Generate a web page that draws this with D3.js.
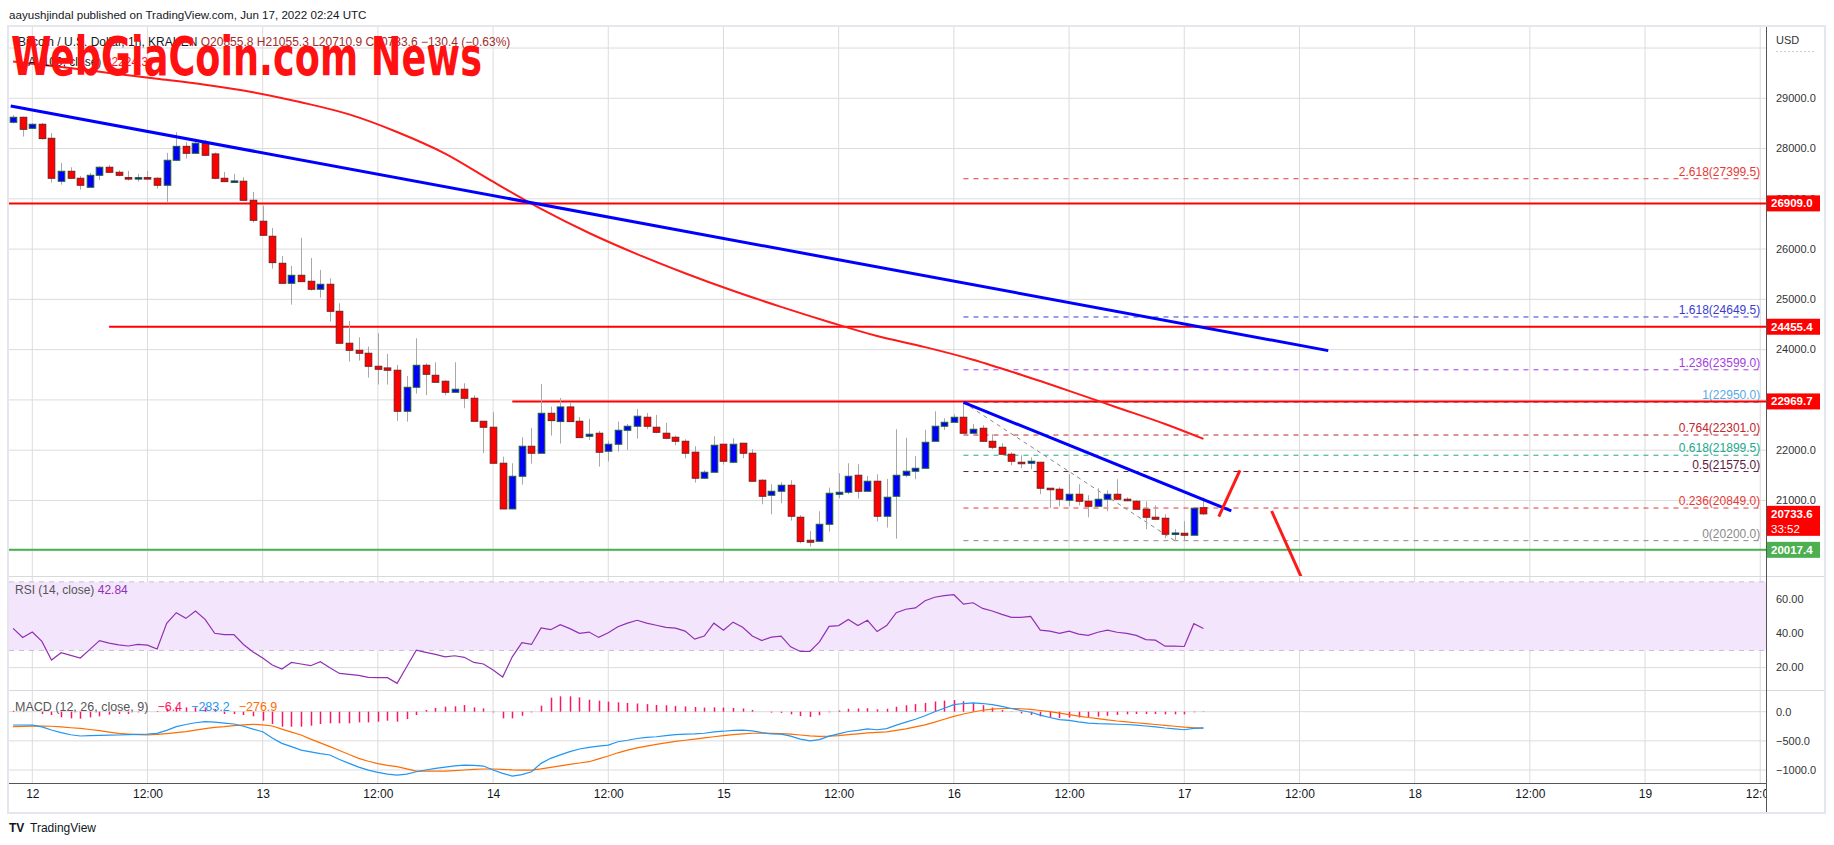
<!DOCTYPE html>
<html>
<head>
<meta charset="utf-8">
<script src="https://cdn.jsdelivr.net/npm/d3@7"></script>
<style>
  body { margin: 0; background: #fff; }
  svg text { font-family: "Liberation Sans", Arial, sans-serif; }
</style>
</head>
<body>
<script>
// BTC/USD 1h candles, first bar = Jun 11 22:00 UTC
var opens = [28523,28622,28403,28483,28204,27349,27548,27409,27230,27468,
  27628,27528,27422,27415,27422,27409,27270,27767,28044,27906,
  28105,27893,27409,27350,27350,26971,26554,26255,25718,25320,
  25479,25360,25201,25300,24763,24127,23987,23928,23669,23636,
  23590,22774,23251,23689,23490,23371,23152,23212,23033,22575,
  22456,21740,20831,21481,22078,21939,22734,22569,22860,22575,
  22277,22337,21979,22118,22396,22476,22655,22456,22337,22257,
  22177,21959,21442,21561,22118,21760,22138,21939,21402,21103,
  21183,21302,20666,20208,20188,20526,21123,21163,21501,21183,
  21382,20686,21083,21501,21581,21640,22177,22476,22555,22655,
  22337,22436,22177,22058,21919,21760,21740,21760,21243,21223,
  21004,21123,20984,20884,21024,21123,21024,20984,20825,20666,
  20646,20347,20347,20308,20855.8];
var highs = [28668,28635,28503,28510,28310,27714,27628,27455,27515,27648,
  27674,27568,27555,27495,27555,27429,27913,28324,28125,28158,
  28171,27920,27535,27495,27429,27137,26865,26421,25864,25665,
  26222,25824,25585,25419,24922,24571,24246,24060,24325,23914,
  23696,23477,24226,23729,23749,23390,23749,23331,23092,22575,
  22754,21872,21740,22257,22443,23318,22867,23039,22953,22661,
  22622,22383,22190,22569,22522,22820,22741,22701,22542,22290,
  22217,22078,21601,22277,22118,22237,22138,22018,21422,21322,
  21362,21402,20706,20387,20785,21256,21541,21740,21720,21488,
  21521,21428,22416,22244,21886,22403,22774,22635,22714,22950,
  22522,22496,22317,22138,21959,21899,21859,21760,21243,21262,
  21521,21322,21103,21243,21203,21422,21064,21004,20984,20904,
  20726,20427,20586,20865,21055.3];
var lows = [28500,28238,28390,28178,27323,27283,27400,27183,27225,27376,
  27520,27449,27362,27342,27390,27203,26938,27750,27800,27900,
  27850,27390,27342,27340,26960,26527,26265,25612,25320,24896,
  25353,25174,25035,24558,24127,23762,23782,23444,23305,23305,
  22582,22569,23125,23092,23351,23092,23152,22834,22575,21939,
  21740,20831,20831,21316,21733,21939,22290,22131,22569,22250,
  22204,21673,21773,21972,22005,22230,22416,22337,22217,22098,
  21839,21355,21442,21561,21713,21740,21839,21382,20924,20725,
  20944,20599,20149,20082,20188,20380,21044,21123,21037,21183,
  20580,20460,20241,21461,21422,21640,22177,22403,22555,22337,
  22337,22177,22018,21919,21700,21640,21620,21123,20845,20884,
  20884,20904,20666,20884,20785,21024,20984,20825,20427,20626,
  20248,20200,20200,20308,20710.9];
var closes = [28622,28383,28483,28198,27409,27548,27409,27270,27468,27628,
  27528,27468,27409,27422,27409,27270,27767,28044,27906,28105,
  27866,27409,27342,27356,26971,26573,26275,25731,25320,25479,
  25353,25201,25300,24763,24127,23987,23928,23669,23609,23590,
  22774,23251,23689,23510,23351,23152,23212,23033,22575,22456,
  21740,20831,21481,22078,21939,22734,22588,22860,22569,22250,
  22317,21959,22118,22396,22476,22675,22476,22356,22237,22177,
  21939,21442,21561,22098,21780,22118,21939,21382,21083,21183,
  21302,20686,20182,20169,20526,21143,21163,21481,21183,21382,
  20686,21064,21501,21581,21640,22157,22476,22555,22655,22337,
  22416,22177,22058,21919,21780,21740,21780,21243,21223,21024,
  21123,20984,20884,21024,21123,21024,21004,20825,20666,20626,
  20328,20353,20308,20845,20733.6];

// moving average (100, close), read at some bars
var maBars = [0,5,10,15,20,25,30,35,40,45,50,55,60,65,70,75,80,85,90,95,100,105,110,115,120,124];
var maVals = [29730,29620,29505,29390,29270,29120,28920,28680,28330,27900,27340,26800,26320,25900,25520,25170,24850,24550,24270,24050,23800,23500,23180,22850,22520,22224];

var rsi = [42.9,37.6,40.7,35.3,24.4,28.7,27.1,25.6,30.6,35.7,34.3,33.3,32.6,33.5,33.1,30.8,45.8,52.0,48.7,53.0,
  48.1,40.0,39.2,39.2,33.5,29.1,25.6,21.5,19.2,23.0,22.1,21.1,23.4,19.9,16.6,16.0,15.5,14.3,14.1,14.1,
  10.8,20.5,30.2,28.9,27.7,26.3,26.9,26.0,23.0,22.1,18.6,14.5,26.3,34.5,33.5,43.1,42.1,45.0,42.7,40.0,
  40.7,37.6,40.3,43.8,45.9,47.6,45.9,44.7,43.5,43.0,41.3,36.6,38.4,45.9,41.8,46.5,43.5,38.4,35.8,37.8,
  38.4,32.1,29.4,29.4,35.0,44.0,44.5,48.0,44.5,47.6,41.0,44.5,52.0,54.0,54.8,59.0,61.0,62.0,62.5,57.0,
  57.8,54.5,53.0,51.0,49.3,49.3,49.8,41.8,41.3,40.0,41.3,39.5,38.8,40.6,41.8,40.6,40.0,38.8,36.3,36.0,
  32.5,32.5,32.3,45.6,42.84];

var macd = [-228,-228,-230,-260,-314,-360,-395,-417,-412,-405,-402,-400,-395,-390,-385,-372,-320,-257,-220,-190,
  -171,-180,-195,-211,-250,-300,-343,-450,-543,-600,-658,-690,-720,-743,-820,-886,-950,-1001,-1040,-1070,
  -1087,-1070,-1030,-1000,-972,-950,-930,-915,-920,-932,-1000,-1058,-1104,-1080,-1030,-886,-800,-740,-686,-640,
  -611,-590,-572,-515,-490,-460,-440,-430,-410,-395,-385,-380,-370,-345,-335,-320,-315,-330,-360,-380,
  -385,-420,-470,-500,-480,-420,-380,-340,-320,-295,-310,-290,-230,-180,-130,-70,0,60,120,140,
  150,140,120,90,55,20,-10,-60,-100,-135,-150,-175,-195,-205,-210,-215,-220,-230,-245,-260,
  -280,-295,-310,-285,-283.2];
var signal = [-257,-252,-248,-245,-250,-262,-275,-285,-305,-325,-350,-372,-385,-395,-400,-390,-375,-360,-343,-315,
  -290,-270,-257,-240,-225,-217,-225,-245,-300,-350,-400,-470,-535,-600,-665,-735,-800,-850,-890,-920,
  -943,-980,-1018,-1018,-1018,-1018,-1010,-1000,-990,-983,-983,-990,-998,-1001,-1001,-980,-955,-930,-905,-880,
  -858,-810,-760,-705,-660,-620,-590,-560,-535,-510,-490,-470,-450,-430,-410,-395,-380,-370,-370,-372,
  -375,-385,-400,-415,-425,-420,-410,-395,-380,-365,-355,-345,-320,-295,-260,-225,-180,-130,-80,-40,
  -5,25,45,55,55,50,40,20,0,-25,-50,-75,-100,-120,-140,-160,-175,-190,-205,-220,
  -235,-250,-265,-275,-276.9];
var hist = [15,10,0,-40,-57,-97,-114,-120,-97,-80,-50,-40,-40,-11,-5,10,57,70,74,74,
  74,46,-40,-40,-57,-80,-154,-211,-257,-257,-257,-240,-211,-200,-200,-200,-183,-183,-171,-154,
  -171,-126,-57,29,63,86,92,114,74,57,-11,-114,-114,-70,-11,103,240,263,263,246,
  206,189,172,160,150,140,130,115,110,100,90,80,70,75,70,65,55,30,0,-15,
  -20,-45,-75,-90,-60,-10,20,50,55,60,40,50,85,110,130,150,175,190,200,180,
  150,110,70,30,-5,-30,-55,-80,-100,-110,-100,-100,-95,-85,-70,-55,-45,-40,-40,-40,
  -45,-45,-45,-10,-6.4];

// drawings: [hours from Jun 12 00:00, price]
var trend1 = [[-2.25, 28845], [135, 23980]];
var trend2 = [[97, 22950], [124.9, 20791]];
var fibTrend = [[97, 22950], [119, 20200]];
var arrowUp = [[123.6, 20680], [125.8, 21600]];
var arrowDown = [[129.1, 20790], [132.2, 19470]];
var levels = [26909.0, 24455.4, 22969.7];
var levelStart = [-2.5, 8, 50];
var support = 20017.4;

var fibRatios = [0, 0.236, 0.5, 0.618, 0.764, 1, 1.236, 1.618, 2.618];
var fibPrices = [20200.0, 20849.0, 21575.0, 21899.5, 22301.0, 22950.0, 23599.0, 24649.5, 27399.5];
var fibColors = ['#8a8a8a','#e53935','#5c1a3c','#22a88a','#c0262b','#5aa9e6','#a63be0','#3a3ccf','#e53935'];

var priceTicks = [20000,21000,22000,23000,24000,25000,26000,27000,28000,29000];
var rsiTicks = [20, 40, 60];
var macdTicks = [0, -500, -1000];

var H = 3600e3;
var t12 = Date.UTC(2022, 5, 12);
var firstBar = Date.UTC(2022, 5, 11, 22);
function barTime(i) { return new Date(firstBar + i * H); }
function hrs(h) { return new Date(t12 + h * H); }

let width = 1834, height = 845;
let left = 9, right = 1766;
let priceTop = 27, priceBot = 576, rsiBot = 690, macdBot = 783, axisBot = 812;

var svg = d3.select('body').append('svg').attr('width', width).attr('height', height);

let x = d3.scaleTime().domain([hrs(-2.427), hrs(180.6)]).range([left, right]);
let y = d3.scaleLinear().domain([19497, 30418]).range([priceBot, priceTop]);
let yR = d3.scaleLinear().domain([6.94, 73.4]).range([rsiBot, priceBot]);
let yM = d3.scaleLinear().domain([-1223, 372]).range([macdBot, rsiBot]);

var defs = svg.append('defs');
function clip(id, y0, y1) {
  defs.append('clipPath').attr('id', id).append('rect')
    .attr('x', left).attr('y', y0).attr('width', right - left).attr('height', y1 - y0);
}
clip('cp', priceTop, priceBot);
clip('cr', priceBot, rsiBot);
clip('cm', rsiBot, macdBot);
clip('ct', macdBot, axisBot);

// header
svg.append('text').attr('x', 9).attr('y', 19).attr('font-size', 11.6).attr('fill', '#131722')
  .text('aayushjindal published on TradingView.com, Jun 17, 2022 02:24 UTC');

// frame
svg.append('rect').attr('x', 8).attr('y', 26).attr('width', 1817).attr('height', 787)
  .attr('fill', 'none').attr('stroke', '#e6e7ee').attr('stroke-width', 2);

// grids
var grid = svg.append('g').attr('stroke', '#dcdcdc').attr('stroke-width', 1);
var halfDays = d3.range(0, 181, 12).map(hrs);
grid.selectAll('line.v').data(halfDays).enter().append('line')
  .attr('x1', d => x(d)).attr('x2', d => x(d)).attr('y1', priceTop).attr('y2', macdBot);
grid.selectAll('line.hp').data(priceTicks.concat([30000])).enter().append('line')
  .attr('x1', left).attr('x2', right).attr('y1', d => y(d)).attr('y2', d => y(d));

// RSI band
svg.append('rect').attr('x', left).attr('width', right - left)
  .attr('y', yR(70)).attr('height', yR(30) - yR(70)).attr('fill', '#f3e6fc');
grid.selectAll('line.hr').data(rsiTicks).enter().append('line')
  .attr('x1', left).attr('x2', right).attr('y1', d => yR(d)).attr('y2', d => yR(d));
grid.selectAll('line.hm').data(macdTicks).enter().append('line')
  .attr('x1', left).attr('x2', right).attr('y1', d => yM(d)).attr('y2', d => yM(d));
[70, 30].forEach(function(v) {
  svg.append('line').attr('x1', left).attr('x2', right).attr('y1', yR(v)).attr('y2', yR(v))
    .attr('stroke', '#c9bfd6').attr('stroke-dasharray', '5,5');
});

// pane separators + axis lines
svg.append('g').attr('stroke', '#d8d8df').selectAll('line').data([priceBot, rsiBot]).enter().append('line')
  .attr('x1', left).attr('x2', 1824).attr('y1', d => d + 0.5).attr('y2', d => d + 0.5);
svg.append('line').attr('x1', left).attr('x2', right).attr('y1', macdBot + 0.5).attr('y2', macdBot + 0.5).attr('stroke', '#555');
svg.append('line').attr('x1', right + 0.5).attr('x2', right + 0.5).attr('y1', priceTop).attr('y2', axisBot).attr('stroke', '#555');

// price pane
var pp = svg.append('g').attr('clip-path', 'url(#cp)');
var hLine = d3.line().x(d => x(hrs(d[0]))).y(d => y(d[1]));

// fib retracement
var fibG = pp.append('g');
fibPrices.forEach(function(p, k) {
  fibG.append('line').attr('x1', x(hrs(97))).attr('x2', x(hrs(180)))
    .attr('y1', y(p)).attr('y2', y(p)).attr('stroke', fibColors[k]).attr('stroke-dasharray', '5,5');
  fibG.append('text').attr('x', x(hrs(180))).attr('y', y(p) - 3).attr('text-anchor', 'end')
    .attr('font-size', 12).attr('fill', fibColors[k])
    .text(fibRatios[k] + '(' + p.toFixed(1) + ')');
});
pp.append('path').attr('d', hLine(fibTrend)).attr('stroke', '#8a8a8a').attr('stroke-dasharray', '4,4').attr('fill', 'none');

// horizontal levels
levels.forEach(function(p, k) {
  pp.append('line').attr('x1', x(hrs(levelStart[k]))).attr('x2', right)
    .attr('y1', y(p)).attr('y2', y(p)).attr('stroke', '#ff0000').attr('stroke-width', 2);
});
pp.append('line').attr('x1', left).attr('x2', right).attr('y1', y(support)).attr('y2', y(support))
  .attr('stroke', '#4caf50').attr('stroke-width', 2);

// moving average
pp.append('path')
  .attr('d', d3.line().curve(d3.curveMonotoneX).x((d, k) => x(barTime(maBars[k]))).y(d => y(d))(maVals))
  .attr('fill', 'none').attr('stroke', '#ff1a1a').attr('stroke-width', 2);

// candles
var bars = d3.range(opens.length);
var bw = 6.6;
pp.selectAll('line.wick').data(bars).enter().append('line')
  .attr('x1', i => Math.round(x(barTime(i))) + 0.5).attr('x2', i => Math.round(x(barTime(i))) + 0.5)
  .attr('y1', i => y(highs[i])).attr('y2', i => y(lows[i]))
  .attr('stroke', '#a8a8a8');
pp.selectAll('rect.body').data(bars).enter().append('rect')
  .attr('x', i => Math.round(x(barTime(i))) + 0.5 - bw / 2)
  .attr('width', bw)
  .attr('y', i => y(Math.max(opens[i], closes[i])))
  .attr('height', i => Math.max(1.5, Math.abs(y(opens[i]) - y(closes[i]))))
  .attr('fill', i => closes[i] >= opens[i] ? '#0000ff' : '#ff0000')
  .attr('stroke', i => closes[i] >= opens[i] ? '#1f5e35' : '#7a1c1c')
  .attr('stroke-width', 1);

// trend lines and arrows
pp.append('path').attr('d', hLine(trend1)).attr('stroke', '#0000ff').attr('stroke-width', 3).attr('fill', 'none');
pp.append('path').attr('d', hLine(trend2)).attr('stroke', '#0000ff').attr('stroke-width', 3).attr('fill', 'none');
pp.append('path').attr('d', hLine(arrowUp)).attr('stroke', '#ff1a1a').attr('stroke-width', 3).attr('fill', 'none');
pp.append('path').attr('d', hLine(arrowDown)).attr('stroke', '#ff1a1a').attr('stroke-width', 3).attr('fill', 'none');

// legend (behind watermark)
var lg = svg.append('text').attr('x', 18).attr('y', 46).attr('font-size', 12).attr('fill', '#131722');
lg.append('tspan').text('Bitcoin / U.S. Dollar, 1h, KRAKEN ');
lg.append('tspan').attr('fill', '#a12c2c')
  .text('O20855.8 H21055.3 L20710.9 C20733.6 \u2212130.4 (\u22120.63%)');
var lg2 = svg.append('text').attr('x', 18).attr('y', 66).attr('font-size', 12).attr('fill', '#131722');
lg2.append('tspan').text('MA (100, close) ');
lg2.append('tspan').attr('fill', '#ff1a1a').text('22224.3');

// watermark
svg.append('text').attr('x', 11).attr('y', 75)
  .attr('font-size', 54).attr('font-weight', 'bold')
  .style('font-family', '"DejaVu Sans Condensed", "DejaVu Sans", sans-serif')
  .attr('textLength', 471).attr('lengthAdjust', 'spacingAndGlyphs')
  .attr('fill', '#ff1111').text('WebGiaCoin.com News');

// RSI pane
var rp = svg.append('g').attr('clip-path', 'url(#cr)');
rp.append('path').attr('d', d3.line().x((d, i) => x(barTime(i))).y(d => yR(d))(rsi))
  .attr('fill', 'none').attr('stroke', '#9130b3').attr('stroke-width', 1.2);
var rl = svg.append('text').attr('x', 15).attr('y', 594).attr('font-size', 12).attr('fill', '#555');
rl.append('tspan').text('RSI (14, close) ');
rl.append('tspan').attr('fill', '#9130b3').text('42.84');

// MACD pane
var mp = svg.append('g').attr('clip-path', 'url(#cm)');
mp.selectAll('line.h').data(bars).enter().append('line')
  .attr('x1', i => Math.round(x(barTime(i))) + 0.5).attr('x2', i => Math.round(x(barTime(i))) + 0.5)
  .attr('y1', yM(0)).attr('y2', i => yM(hist[i]))
  .attr('stroke', '#ff1463').attr('stroke-width', 1.5);
mp.append('path').attr('d', d3.line().x((d, i) => x(barTime(i))).y(d => yM(d))(signal))
  .attr('fill', 'none').attr('stroke', '#ff6d00').attr('stroke-width', 1.2);
mp.append('path').attr('d', d3.line().x((d, i) => x(barTime(i))).y(d => yM(d))(macd))
  .attr('fill', 'none').attr('stroke', '#2196f3').attr('stroke-width', 1.2);
var ml = svg.append('text').attr('x', 15).attr('y', 711).attr('font-size', 12.5).attr('fill', '#555');
ml.append('tspan').text('MACD (12, 26, close, 9)');
ml.append('tspan').attr('dx', 9).attr('fill', '#ff1463').text('\u22126.4');
ml.append('tspan').attr('dx', 9).attr('fill', '#2196f3').text('\u2212283.2');
ml.append('tspan').attr('dx', 9).attr('fill', '#ff6d00').text('\u2212276.9');

// right scale
var ax = svg.append('g').attr('font-size', 11).attr('fill', '#333');
ax.selectAll('text.p').data(priceTicks).enter().append('text')
  .attr('x', 1776).attr('y', d => y(d)).attr('dy', '0.35em').text(d => d3.format('.1f')(d));
ax.selectAll('text.r').data(rsiTicks).enter().append('text')
  .attr('x', 1776).attr('y', d => yR(d)).attr('dy', '0.35em').text(d => d3.format('.2f')(d));
ax.selectAll('text.m').data(macdTicks).enter().append('text')
  .attr('x', 1776).attr('y', d => yM(d)).attr('dy', '0.35em').text(d => d3.format('.1f')(d));
ax.append('text').attr('x', 1776).attr('y', 44).text('USD');
svg.append('line').attr('x1', 1776).attr('x2', 1814).attr('y1', 51.5).attr('y2', 51.5)
  .attr('stroke', '#ccc').attr('stroke-dasharray', '2,2');

function tag(p, color) {
  var g = svg.append('g');
  g.append('rect').attr('x', right + 1).attr('y', y(p) - 8).attr('width', 53).attr('height', 16).attr('fill', color);
  g.append('text').attr('x', right + 5).attr('y', y(p)).attr('dy', '0.35em').attr('font-size', 11.5)
    .attr('font-weight', 'bold').attr('fill', '#fff').text(p.toFixed(1));
}
levels.forEach(p => tag(p, '#ff0000'));
tag(support, '#4caf50');
var last = closes[closes.length - 1];
svg.append('rect').attr('x', right + 1).attr('y', y(last) - 8).attr('width', 53).attr('height', 30).attr('fill', '#ff0000');
svg.append('text').attr('x', right + 5).attr('y', y(last)).attr('dy', '0.35em').attr('font-size', 11.5)
  .attr('font-weight', 'bold').attr('fill', '#fff').text(last.toFixed(1));
svg.append('text').attr('x', right + 5).attr('y', y(last) + 15).attr('dy', '0.35em').attr('font-size', 11.5)
  .attr('fill', '#fff').text('33:52');

// time axis
var xAxis = d3.axisBottom(x).tickValues(halfDays).tickSize(0)
  .tickFormat(d => d.getUTCHours() === 0 ? String(d.getUTCDate()) : '12:00');
svg.append('g').attr('clip-path', 'url(#ct)').append('g')
  .attr('transform', 'translate(0,' + (macdBot + 3) + ')')
  .call(xAxis)
  .call(g => g.select('.domain').remove())
  .selectAll('text').attr('font-size', 12).attr('fill', '#131722');

// footer
svg.append('text').attr('x', 9).attr('y', 832).attr('font-size', 12).attr('font-weight', 900)
  .attr('fill', '#131722').text('TV');
svg.append('text').attr('x', 30).attr('y', 832).attr('font-size', 12).attr('fill', '#131722').text('TradingView');
</script>
</body>
</html>
